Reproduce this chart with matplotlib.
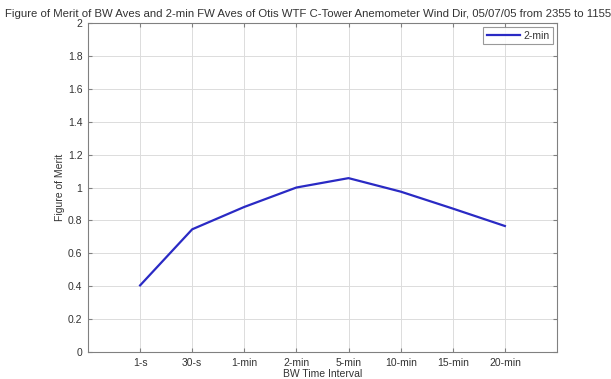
import matplotlib
matplotlib.use('Agg')
import matplotlib.pyplot as plt

# 数据
intervals = ['1-s', '30-s', '1-min', '2-min', '5-min', '10-min', '15-min', '20-min']
merit_2min = [0.405, 0.746, 0.882, 1.0, 1.057, 0.975, 0.872, 0.766]
y_ticks = [0, 0.2, 0.4, 0.6, 0.8, 1, 1.2, 1.4, 1.6, 1.8, 2]
y_tick_labels = ['0', '0.2', '0.4', '0.6', '0.8', '1', '1.2', '1.4', '1.6', '1.8', '2']

plt.rcParams['font.family'] = ['Liberation Sans', 'DejaVu Sans']
text_color = '#333333'

fig = plt.figure(figsize=(6.11, 3.79), dpi=100)
ax = fig.add_axes([0.144, 0.0712, 0.7676, 0.8681])

x = list(range(1, len(intervals) + 1))
ax.plot(x, merit_2min, color='#2a2ac4', linewidth=1.6, label='2-min')

ax.set_xlim(0, len(intervals) + 1)
ax.set_ylim(0, 2)
ax.set_xticks(x)
ax.set_xticklabels(intervals)
ax.set_yticks(y_ticks)
ax.set_yticklabels(y_tick_labels)

ax.grid(True, color='#dcdcdc', linewidth=0.7)
ax.tick_params(direction='in', length=3, labelsize=7.5, colors='#808080',
               labelcolor=text_color, top=True, right=True, pad=4)
for spine in ax.spines.values():
    spine.set_color('#808080')
    spine.set_linewidth(0.8)

ax.set_xlabel('BW Time Interval', fontsize=7.5, color=text_color, labelpad=1)
ax.set_ylabel('Figure of Merit', fontsize=7.5, color=text_color, labelpad=2)
ax.set_title('Figure of Merit of BW Aves and 2-min FW Aves of Otis WTF C-Tower '
             'Anemometer Wind Dir, 05/07/05 from 2355 to 1155 GMT',
             fontsize=8.2, color=text_color, pad=4)

leg = ax.legend(loc='upper right', fontsize=7.5, frameon=True, fancybox=False,
                borderaxespad=0.4, handlelength=3.2, handletextpad=0.3,
                borderpad=0.35, labelcolor=text_color)
leg.get_frame().set_edgecolor('#808080')
leg.get_frame().set_linewidth(0.8)

plt.savefig('out.png', dpi=100)
plt.close()
